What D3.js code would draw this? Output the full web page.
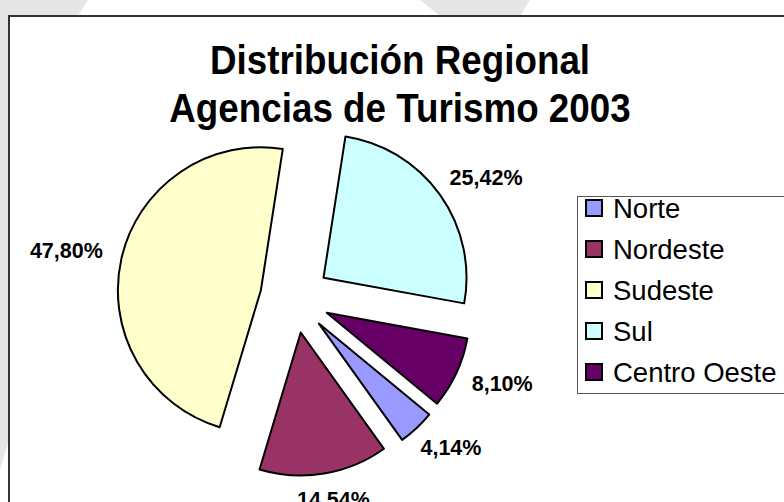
<!DOCTYPE html>
<html>
<head>
<meta charset="utf-8">
<script src="https://cdn.jsdelivr.net/npm/d3@7"></script>
<style>
  html, body { margin: 0; padding: 0; background: #fff; }
  svg { display: block; font-family: Arial, "Liberation Sans", sans-serif; }
</style>
</head>
<body>
<div id="chart"></div>
<script>
// data
const regions = ["Norte", "Nordeste", "Sudeste", "Sul", "Centro Oeste"];
const shares = [4.14, 14.54, 47.80, 25.42, 8.10];
const colors = ["#9999FF", "#993366", "#FFFFCC", "#CCFFFF", "#660066"];
const titleLines = ["Distribución Regional", "Agencias de Turismo 2003"];

const data = regions.map((r, i) => ({region: r, value: shares[i]}));

// constants
const width = 784;
const height = 502;
const cx = 295, cy = 298;      // pie centre
const radius = 143;
const explode = 35;           // every slice pulled out
const startDeg = 129.5;       // Excel "angle of first slice"

const svg = d3.select("#chart")
    .append("svg")
    .attr("width", width)
    .attr("height", height)

// faint watermark shapes around the chart area
const bg = svg.append("g").attr("fill", "#e6e6e6")
bg.append("path").attr("d", "M0,0 L88,0 L78,16 L9,16 L9,440 L0,470 Z")
bg.append("path").attr("d", "M420,0 L530,0 L520,16 L440,16 Z")

// chart area border (runs off the right and bottom)
svg.append("rect")
    .attr("x", 9)
    .attr("y", 16)
    .attr("width", 820)
    .attr("height", 520)
    .attr("fill", "#fff")
    .attr("stroke", "#333")
    .attr("stroke-width", 2)

// title
svg.append("g")
    .attr("transform", "translate(400,0) scale(0.92,1)")
    .selectAll("text")
    .data(titleLines)
    .join("text")
    .attr("x", 0)
    .attr("y", (d, i) => 74 + i * 48)
    .attr("text-anchor", "middle")
    .attr("font-size", 40)
    .attr("font-weight", "bold")
    .text(d => d)

// pie layout
const pie = d3.pie()
    .sort(null)
    .value(d => d.value)
    .startAngle(startDeg * Math.PI / 180)
    .endAngle(startDeg * Math.PI / 180 + 2 * Math.PI)

const arc = d3.arc()
    .innerRadius(0)
    .outerRadius(radius)

const arcs = pie(data)
const mid = d => (d.startAngle + d.endAngle) / 2

const slices = svg.append("g")
    .attr("transform", `translate(${cx},${cy})`)

slices.selectAll("path")
    .data(arcs)
    .join("path")
    .attr("transform", d => `translate(${explode * Math.sin(mid(d))},${-explode * Math.cos(mid(d))})`)
    .attr("d", arc)
    .attr("fill", (d, i) => colors[i])
    .attr("stroke", "#000")
    .attr("stroke-width", 2)
    .attr("stroke-linejoin", "round")

// percentage labels outside each slice
const fmt = v => d3.format(".2f")(v).replace(".", ",") + "%"
const labelR = radius + explode + 20
const labels = slices.selectAll("text.pct")
    .data(arcs)
    .join("text")
    .attr("class", "pct")
    .attr("font-size", 21.5)
    .attr("font-weight", "bold")
    .attr("text-anchor", "middle")
    .text(d => fmt(d.data.value))

// push each label box out so it just touches the label circle
labels.each(function(d) {
    const a = mid(d)
    const bb = this.getBBox()
    const x = labelR * Math.sin(a) + (bb.width / 2) * Math.sin(a)
    const y = -labelR * Math.cos(a) - 8 * Math.cos(a)
    d3.select(this).attr("x", x).attr("y", y + 6)
})

// legend
const legendTop = 196
const rowH = 41
const legend = svg.append("g")

legend.append("rect")
    .attr("x", 577.5)
    .attr("y", legendTop + 0.5)
    .attr("width", 260)
    .attr("height", 197)
    .attr("fill", "#fff")
    .attr("stroke", "#555")
    .attr("stroke-width", 1)

const rows = legend.selectAll("g.row")
    .data(regions)
    .join("g")
    .attr("class", "row")
    .attr("transform", (d, i) => `translate(586,${legendTop + 12 + i * rowH})`)

rows.append("rect")
    .attr("x", 0)
    .attr("y", -8)
    .attr("width", 16)
    .attr("height", 16)
    .attr("fill", (d, i) => colors[i])
    .attr("stroke", "#000")
    .attr("stroke-width", 2)

rows.append("text")
    .attr("x", 27)
    .attr("y", 9.5)
    .attr("font-size", 27.5)
    .text(d => d)
</script>
</body>
</html>
